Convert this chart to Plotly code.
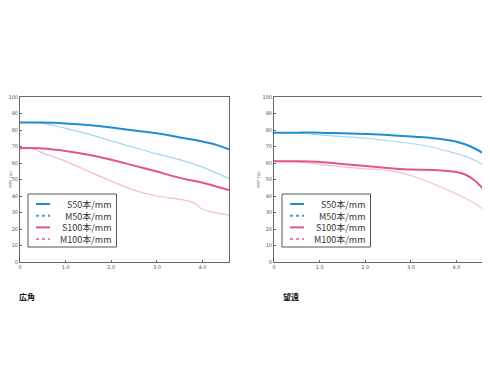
import plotly.graph_objects as go

# Wide-angle (広角) data
x_wide = [0, 0.5, 1.0, 1.5, 2.0, 2.5, 3.0, 3.5, 4.0, 4.3, 4.58]
s50_wide = [84.6, 84.5, 84.0, 83.0, 81.5, 79.7, 78.0, 75.5, 73.0, 71.0, 68.3]
m50_wide = [84.6, 84.0, 81.0, 77.5, 73.4, 69.4, 65.5, 62.0, 57.5, 54.0, 50.7]
s100_wide = [69.0, 68.8, 67.3, 65.0, 62.0, 58.4, 54.8, 51.0, 48.0, 45.8, 43.6]
x_wide_m100 = [0, 0.3, 0.5, 1.0, 1.5, 2.0, 2.5, 3.0, 3.5, 3.8, 4.0, 4.2, 4.58]
m100_wide = [69.0, 68.5, 66.0, 61.0, 55.0, 49.0, 43.6, 40.0, 38.0, 36.0, 32.0, 30.4, 28.4]

# Telephoto (望遠) data
x_tele = [0, 0.5, 1.0, 1.5, 2.0, 2.5, 3.0, 3.5, 4.0, 4.2, 4.4, 4.58]
s50_tele = [78.4, 78.4, 78.4, 78.0, 77.6, 77.0, 76.0, 75.0, 72.9, 71.2, 68.8, 66.0]
m50_tele = [78.4, 78.2, 77.0, 76.0, 75.0, 73.5, 71.8, 69.4, 65.7, 64.0, 61.5, 59.0]
s100_tele = [61.0, 61.0, 60.6, 59.4, 58.2, 57.0, 56.0, 55.8, 54.5, 52.9, 49.4, 44.3]
m100_tele = [61.0, 60.6, 59.2, 57.6, 56.5, 55.5, 52.4, 47.3, 41.2, 38.5, 35.5, 32.0]

legend_names = ["S50本/mm", "M50本/mm", "S100本/mm", "M100本/mm"]
panel_titles = ["広角", "望遠"]
x_ticks = [0, 1, 2, 3, 4]
x_tick_text = ["0", "1.0", "2.0", "3.0", "4.0"]
y_ticks = list(range(0, 101, 10))

C_S50 = "#1f8dd6"
C_M50 = "#a8d4f0"
C_S100 = "#e4538a"
C_M100 = "#f6bcd0"
C_M50_LEG = "#3c9ddb"
C_M100_LEG = "#ec82a8"

# The page body has an 8px margin; work in window pixels and convert.
OFF = 8
W, H = 490 - OFF, 368 - OFF
def px(x):
    return (x - OFF) / W
def py(y):
    return 1 - (y - OFF) / H

fig = go.Figure()

def add_panel(xa, ya, xs_s50, s50, xs_m50, m50, xs_s100, s100, xs_m100, m100):
    fig.add_trace(go.Scatter(x=xs_m50, y=m50, mode="lines", line=dict(color=C_M50, width=1.2, shape="spline"),
                             xaxis=xa, yaxis=ya, name=legend_names[1], showlegend=False))
    fig.add_trace(go.Scatter(x=xs_m100, y=m100, mode="lines", line=dict(color=C_M100, width=1.2, shape="spline"),
                             xaxis=xa, yaxis=ya, name=legend_names[3], showlegend=False))
    fig.add_trace(go.Scatter(x=xs_s50, y=s50, mode="lines", line=dict(color=C_S50, width=2, shape="spline"),
                             xaxis=xa, yaxis=ya, name=legend_names[0], showlegend=False))
    fig.add_trace(go.Scatter(x=xs_s100, y=s100, mode="lines", line=dict(color=C_S100, width=2, shape="spline"),
                             xaxis=xa, yaxis=ya, name=legend_names[2], showlegend=False))

add_panel("x", "y", x_wide, s50_wide, x_wide, m50_wide, x_wide, s100_wide, x_wide_m100, m100_wide)
add_panel("x2", "y2", x_tele, s50_tele, x_tele, m50_tele, x_tele, s100_tele, x_tele, m100_tele)

top = py(97)
bot = py(262)
axis_common = dict(showline=True, linecolor="#666666", linewidth=1, mirror=True, showgrid=False,
                   zeroline=False, ticks="inside", ticklen=2, tickcolor="#666666", automargin=False,
                   tickfont=dict(size=5, color="#555555", family="DejaVu Sans"))
ytitle = dict(text="MTF (%)", font=dict(size=4, color="#555555", family="DejaVu Sans"), standoff=2)
fig.update_layout(
    width=W, height=H,
    margin=dict(l=0, r=0, t=0, b=0),
    paper_bgcolor="white", plot_bgcolor="white",
    showlegend=False,
    xaxis=dict(domain=[px(20), px(229)], range=[0, 4.58], tickvals=x_ticks, ticktext=x_tick_text, anchor="y", **axis_common),
    yaxis=dict(domain=[bot, top], range=[0, 100], tickvals=y_ticks, anchor="x", title=ytitle, **axis_common),
    xaxis2=dict(domain=[px(274), px(483)], range=[0, 4.58], tickvals=x_ticks, ticktext=x_tick_text, anchor="y2", **axis_common),
    yaxis2=dict(domain=[bot, top], range=[0, 100], tickvals=y_ticks, anchor="x2", title=ytitle, **axis_common),
)

# Manual legends (plotly legend rows are too tall for this compact box)
leg_styles = [(C_S50, "solid"), (C_M50_LEG, "dot"), (C_S100, "solid"), (C_M100_LEG, "dot")]
row_y = [204, 215.7, 227.4, 239.1]
for off in (0, 254):
    fig.add_shape(type="rect", xref="paper", yref="paper",
                  x0=px(28 + off), x1=px(116.5 + off), y0=py(247), y1=py(194),
                  line=dict(color="#555555", width=1), fillcolor="white", layer="above")
    for (c, d), yy in zip(leg_styles, row_y):
        fig.add_shape(type="line", xref="paper", yref="paper",
                      x0=px(36 + off), x1=px(50 + off), y0=py(yy), y1=py(yy),
                      line=dict(color=c, width=2, dash=d), layer="above")
    fig.add_annotation(x=px(112.5 + off), y=py(sum(row_y) / len(row_y)), xref="paper", yref="paper",
                       text="<br>".join(legend_names), align="right",
                       showarrow=False, xanchor="right", yanchor="middle", borderpad=0,
                       font=dict(size=9, color="#333333", family="Noto Sans CJK JP"))

fig.add_annotation(x=px(17), y=py(296), xref="paper", yref="paper", text="<b>" + panel_titles[0] + "</b>",
                   showarrow=False, xanchor="left", yanchor="middle",
                   font=dict(size=8, color="#111111", family="Noto Sans CJK JP"))
fig.add_annotation(x=px(281), y=py(296), xref="paper", yref="paper", text="<b>" + panel_titles[1] + "</b>",
                   showarrow=False, xanchor="left", yanchor="middle",
                   font=dict(size=8, color="#111111", family="Noto Sans CJK JP"))

fig.write_html("out.html")
